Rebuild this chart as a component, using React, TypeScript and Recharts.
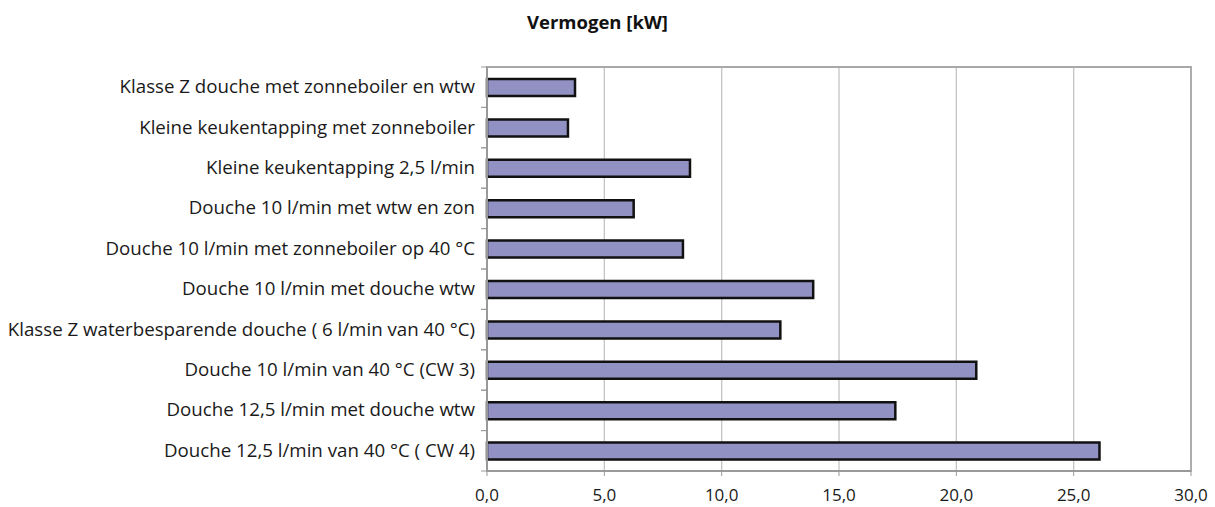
import { BarChart, Bar, XAxis, YAxis, CartesianGrid, ReferenceArea } from 'recharts';

const categories = [
  'Klasse Z douche met zonneboiler en wtw',
  'Kleine keukentapping met zonneboiler',
  'Kleine keukentapping 2,5 l/min',
  'Douche 10 l/min met wtw en zon',
  'Douche 10 l/min met zonneboiler op 40 °C',
  'Douche 10 l/min met douche wtw',
  'Klasse Z waterbesparende douche ( 6 l/min van 40 °C)',
  'Douche 10 l/min van 40 °C (CW 3)',
  'Douche 12,5 l/min met douche wtw',
  'Douche 12,5 l/min van 40 °C ( CW 4)',
];
const vermogen = [3.75, 3.45, 8.65, 6.25, 8.35, 13.9, 12.5, 20.85, 17.4, 26.1];
const xTicks = [0, 5, 10, 15, 20, 25, 30];

const data = categories.map((name, i) => ({ name, kw: vermogen[i] }));

const FONT = '"Open Sans", "Noto Sans", sans-serif';
const BAND = 40.4;
const PLOT_LEFT = 487;

const CatTick = (props: any) => {
  const { x, y, payload } = props;
  return (
    <g>
      <text x={x - 4} y={y} dy={6} textAnchor="end" fontSize={18.7} fill="#1a1a1a" fontFamily={FONT}>
        {payload.value}
      </text>
      <line x1={PLOT_LEFT - 6} x2={PLOT_LEFT} y1={y - BAND / 2} y2={y - BAND / 2} stroke="#999" />
      <line x1={PLOT_LEFT - 6} x2={PLOT_LEFT} y1={y + BAND / 2} y2={y + BAND / 2} stroke="#999" />
    </g>
  );
};

export default function App() {
  return (
    <div style={{ position: 'relative', width: 1215, height: 507 }}>
      <style>{'body{margin:0;overflow:hidden}'}</style>
      <div
        style={{
          position: 'absolute',
          left: 527,
          top: 10,
          whiteSpace: 'nowrap',
          fontFamily: FONT,
          fontWeight: 'bold',
          fontSize: 18.5,
          color: '#111',
          lineHeight: '24px',
        }}
      >
        Vermogen [kW]
      </div>
      <BarChart
        width={1215}
        height={507}
        data={data}
        layout="vertical"
        margin={{ top: 67, right: 24, bottom: 0, left: 0 }}
        barSize={17}
      >
        <CartesianGrid horizontal={false} stroke="#c4c4c4" strokeWidth={1.3} />
        <ReferenceArea x1={0} x2={30} fill="none" stroke="#a8a8a8" strokeWidth={1.8} ifOverflow="visible" />
        <XAxis
          type="number"
          domain={[0, 30]}
          ticks={xTicks}
          height={36}
          tickFormatter={(v: number) => v.toFixed(1).replace('.', ',')}
          tick={{ fontSize: 17, fill: '#1a1a1a', fontFamily: FONT }}
          axisLine={{ stroke: '#999', strokeWidth: 2 }}
          tickLine={{ stroke: '#999' }}
          tickSize={5}
          tickMargin={13}
          interval={0}
        />
        <YAxis
          type="category"
          dataKey="name"
          width={PLOT_LEFT}
          tick={<CatTick />}
          tickLine={false}
          axisLine={{ stroke: '#999', strokeWidth: 2 }}
          interval={0}
        />
        <Bar dataKey="kw" fill="#9191c4" stroke="#111" strokeWidth={2.5} isAnimationActive={false} />
      </BarChart>
    </div>
  );
}
